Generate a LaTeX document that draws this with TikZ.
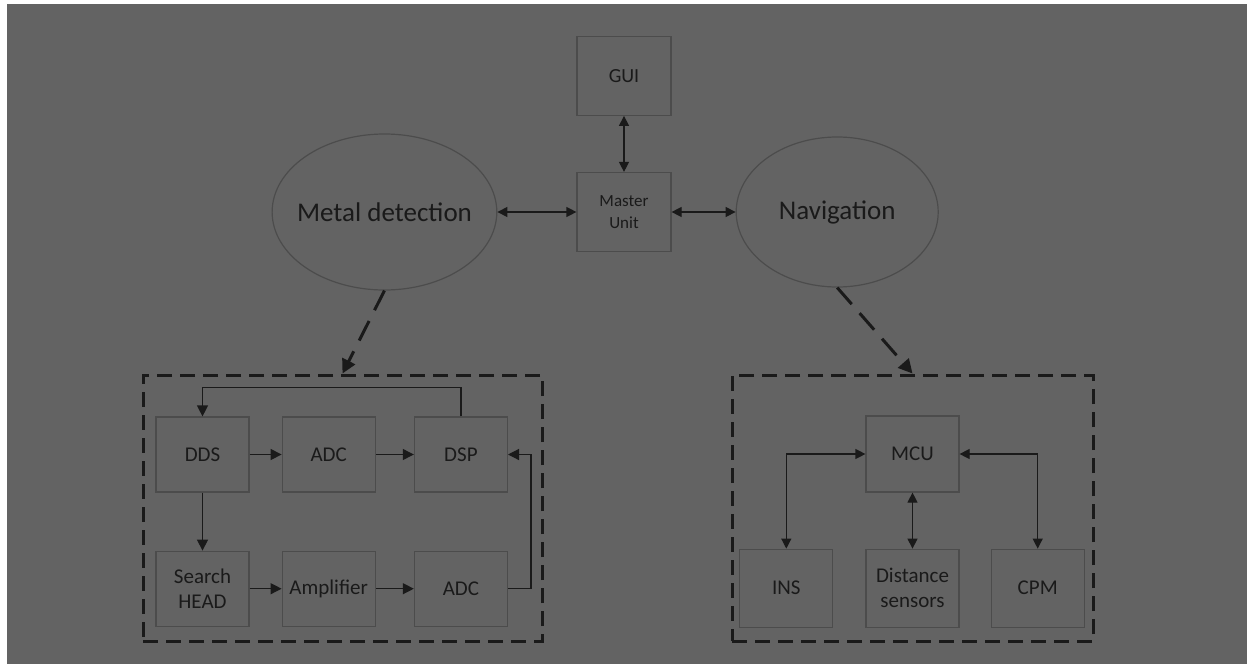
\documentclass[tikz,border=0pt]{standalone}
\usepackage{fontspec}
\setmainfont{Carlito}
\usepackage{xcolor}
\usepackage{tikz}
\usetikzlibrary{shapes.geometric,arrows.meta,positioning,fit}

\definecolor{bggray}{HTML}{636363}
\definecolor{edgegray}{HTML}{4C4C4C}
\definecolor{inkdark}{HTML}{1A1A1A}

\begin{document}
\begin{tikzpicture}[
  x=0.5pt,y=-0.5pt,
  unit/.style ={rectangle,draw=edgegray,line width=0.6pt,text=inkdark,align=center,
                minimum width=46.5pt,minimum height=37.5pt,inner sep=1pt,
                font=\fontsize{10.5}{12.5}\selectfont},
  topbox/.style={unit,minimum width=47pt,minimum height=39.5pt},
  blob/.style ={ellipse,draw=edgegray,line width=0.6pt,text=inkdark,inner sep=0pt,
                inner xsep=-4pt,font=\fontsize{13.5}{15}\selectfont},
  grp/.style  ={rectangle,draw=inkdark,line width=1.5pt,dash pattern=on 7.5pt off 4pt,
                inner sep=0pt},
  arr/.style  ={-{Triangle[length=5.5pt,width=5.5pt]},line width=0.6pt,draw=inkdark},
  dbl/.style  ={{Triangle[length=5pt,width=5pt]}-{Triangle[length=5pt,width=5pt]},
                line width=0.6pt,draw=inkdark},
  darr/.style ={-{Triangle[length=7pt,width=7pt]},line width=1.5pt,draw=inkdark,
                dash pattern=on 11pt off 6pt},
]
\useasboundingbox (0,0) rectangle (1247,664);
\fill[white] (0,0) rectangle (1247,664);
\fill[bggray] (7,4) rectangle (1247,664);

%% --- top level ---------------------------------------------------------------
\node[topbox, font=\fontsize{8.5}{11}\selectfont] (master) at (624,212) {Master\\Unit};
\node[topbox, font=\fontsize{10}{12}\selectfont, above=28pt of master] (gui) {GUI};
\node[blob, minimum width=111pt,minimum height=78pt, left=39.5pt of master]  (metal) {Metal detection};
\node[blob, minimum width=101pt,minimum height=75pt, right=32pt of master]   (nav)   {Navigation};

\draw[dbl] (gui) -- (master);
\draw[dbl] (metal) -- (master);
\draw[dbl] (master) -- (nav);

%% --- metal detection block ---------------------------------------------------
\node[grp, fit={(143,375) (542,641)}] (mdgrp) {};
\node[unit] (dds) at (202.5,454.5) {DDS};
\node[unit, right=16pt of dds]  (adca) {ADC};
\node[unit, right=19pt of adca] (dsp)  {DSP};
\node[unit, below=29pt of dds]  (head) {Search\\HEAD};
\node[unit, right=16pt of head] (amp)  {Amplifier};
\node[unit, right=19pt of amp]  (adcb) {ADC};

\draw[arr] (dds) -- (adca);
\draw[arr] (adca) -- (dsp);
\draw[arr] (dds) -- (head);
\draw[arr] (head) -- (amp);
\draw[arr] (amp) -- (adcb);
\draw[arr] (adcb.east) -- ++(11.5pt,0) |- (dsp.east);
\draw[arr] (dsp.north) -- ++(0,14.5pt) -| (dds.north);

%% --- navigation block --------------------------------------------------------
\node[grp, fit={(732,375) (1093,641)}] (navgrp) {};
\node[unit, minimum height=38pt] (mcu) at (912.5,454) {MCU};
\node[unit, minimum height=39pt, below=28pt of mcu]  (dist) {Distance\\sensors};
\node[unit, minimum height=39pt, left=16pt of dist]  (ins)  {INS};
\node[unit, minimum height=39pt, right=15.5pt of dist] (cpm) {CPM};

\draw[dbl] (mcu.west) -| (ins.north);
\draw[dbl] (mcu.east) -| (cpm.north);
\draw[dbl] (mcu) -- (dist);

%% --- links down to the blocks ------------------------------------------------
\draw[darr] (metal.south) -- (mdgrp.north);
\draw[darr] (nav.south) -- (navgrp.north);

\end{tikzpicture}
\end{document}
